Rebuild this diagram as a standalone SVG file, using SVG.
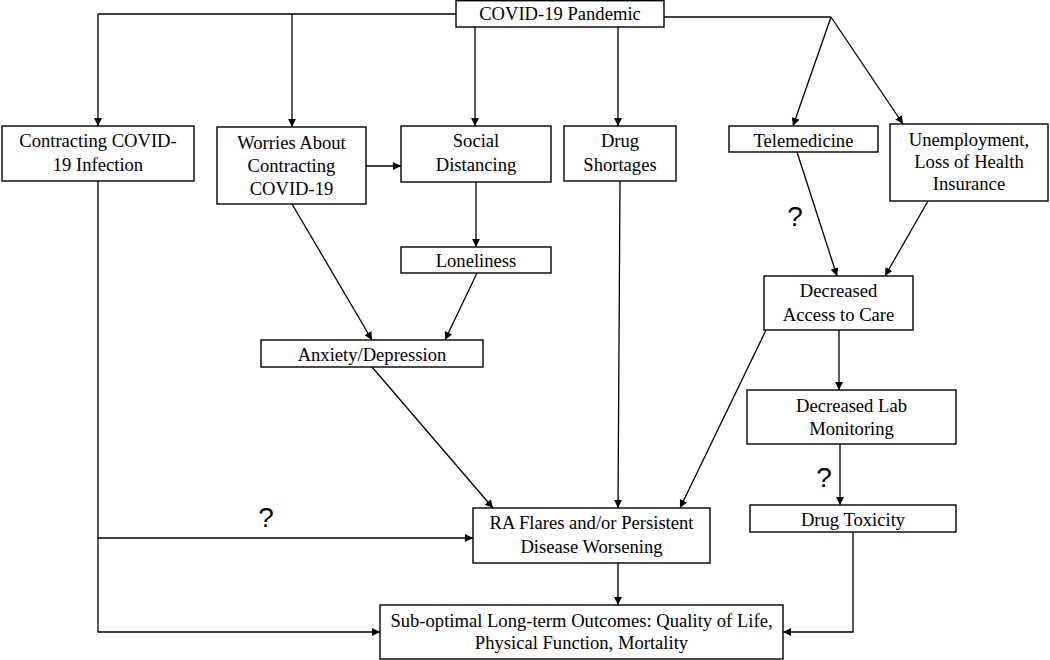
<svg xmlns="http://www.w3.org/2000/svg" width="1050" height="660" viewBox="0 0 1050 660">
<style>
.box{fill:#fff;stroke:#000;stroke-width:1.4}
.t{font-family:"Liberation Serif","Times New Roman",serif;font-size:18.6px;fill:#000;text-anchor:middle}
.q{font-family:"Liberation Sans",Arial,sans-serif;font-size:28px;fill:#000;text-anchor:middle}
.c{fill:none;stroke:#000;stroke-width:1.3;marker-end:url(#ah)}
.l{fill:none;stroke:#000;stroke-width:1.3}
</style>
<defs>
<marker id="ah" viewBox="0 0 10 10" refX="10" refY="5" markerWidth="8" markerHeight="8" markerUnits="userSpaceOnUse" orient="auto">
<path d="M0,0 L10,5 L0,10 z" fill="#000"/>
</marker>
</defs>
<rect width="1050" height="660" fill="#fff"/>
<g id="connectors">
<path class="l" d="M456,14 H98"/>
<path class="c" d="M98,14 V126"/>
<path class="c" d="M292,14 V127"/>
<path class="c" d="M475,27 V126"/>
<path class="c" d="M618,27 V126"/>
<path class="l" d="M664,17 H831"/>
<path class="c" d="M831,17 L793,126"/>
<path class="c" d="M831,17 L903,124"/>
<path class="c" d="M366,166 H401"/>
<path class="c" d="M476,182 V247"/>
<path class="c" d="M292,204 L372,340"/>
<path class="c" d="M477,273 L445,340"/>
<path class="c" d="M372,367 L493,508"/>
<path class="c" d="M620,181 L618,508"/>
<path class="c" d="M766,330 L680,508"/>
<path class="c" d="M797,152 L837,276"/>
<path class="c" d="M928,201 L885,276"/>
<path class="c" d="M839,330 V390"/>
<path class="c" d="M840,444 V505"/>
<path class="c" d="M98,181 V632 H380"/>
<path class="c" d="M98,538 H473"/>
<path class="c" d="M618,563 V605"/>
<path class="c" d="M853,532 V632 H783"/>
<text class="q" x="266" y="527">?</text>
<text class="q" x="795" y="226">?</text>
<text class="q" x="824" y="487">?</text>
</g>
<g id="pandemic"><rect class="box" x="456" y="0.7" width="208" height="26.3"/><text class="t" x="560" y="20">COVID-19 Pandemic</text></g>
<g id="contracting"><rect class="box" x="2" y="126" width="192" height="55"/><text class="t" x="98" y="147">Contracting COVID-</text><text class="t" x="98" y="171">19 Infection</text></g>
<g id="worries"><rect class="box" x="217" y="127" width="149" height="77"/><text class="t" x="291.5" y="149">Worries About</text><text class="t" x="291.5" y="172">Contracting</text><text class="t" x="291.5" y="195">COVID-19</text></g>
<g id="social"><rect class="box" x="401" y="126" width="150" height="56"/><text class="t" x="476" y="147">Social</text><text class="t" x="476" y="171">Distancing</text></g>
<g id="drug"><rect class="box" x="564" y="126" width="112" height="55"/><text class="t" x="620" y="147">Drug</text><text class="t" x="620" y="171">Shortages</text></g>
<g id="telemedicine"><rect class="box" x="729" y="126" width="149" height="26"/><text class="t" x="803.5" y="147">Telemedicine</text></g>
<g id="unemployment"><rect class="box" x="890" y="124" width="158" height="77"/><text class="t" x="969" y="146">Unemployment,</text><text class="t" x="969" y="168">Loss of Health</text><text class="t" x="969" y="190">Insurance</text></g>
<g id="loneliness"><rect class="box" x="401" y="247" width="150" height="26"/><text class="t" x="476" y="267">Loneliness</text></g>
<g id="anxiety"><rect class="box" x="261" y="340" width="222" height="27"/><text class="t" x="372" y="361">Anxiety/Depression</text></g>
<g id="access"><rect class="box" x="764" y="276" width="149" height="54"/><text class="t" x="838.5" y="297">Decreased</text><text class="t" x="838.5" y="321">Access to Care</text></g>
<g id="lab"><rect class="box" x="747" y="390" width="209" height="54"/><text class="t" x="851.5" y="412">Decreased Lab</text><text class="t" x="851.5" y="435">Monitoring</text></g>
<g id="toxicity"><rect class="box" x="750" y="505" width="206" height="27"/><text class="t" x="853" y="526">Drug Toxicity</text></g>
<g id="ra"><rect class="box" x="473" y="508" width="237" height="55"/><text class="t" x="591.5" y="529">RA Flares and/or Persistent</text><text class="t" x="591.5" y="553">Disease Worsening</text></g>
<g id="outcomes"><rect class="box" x="380" y="605" width="403" height="54"/><text class="t" x="581.5" y="627">Sub-optimal Long-term Outcomes: Quality of Life,</text><text class="t" x="581.5" y="649">Physical Function, Mortality</text></g>
</svg>
